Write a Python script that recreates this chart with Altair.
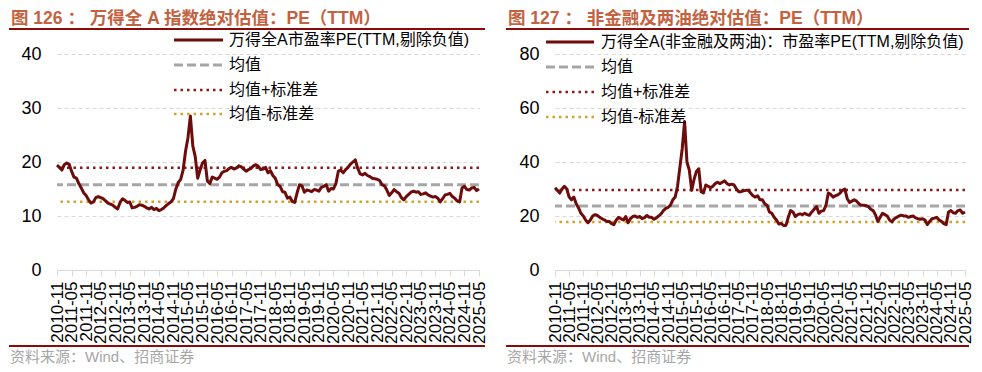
import json
import altair as alt
import pandas as pd

# ---------------- data ----------------
TICK_LABELS = [
    "2010-11", "2011-05", "2011-11", "2012-05", "2012-11", "2013-05", "2013-11",
    "2014-05", "2014-11", "2015-05", "2015-11", "2016-05", "2016-11", "2017-05",
    "2017-11", "2018-05", "2018-11", "2019-05", "2019-11", "2020-05", "2020-11",
    "2021-05", "2021-11", "2022-05", "2022-11", "2023-05", "2023-11", "2024-05",
    "2024-11", "2025-05",
]

# 万得全A 市盈率PE(TTM) monthly, 2010-11 .. 2025-05
QA_PE = [
    19.4, 19.0,
    18.5, 19.5, 19.8, 19.6, 18.3, 17.2, 17.0, 16.0, 15.2, 14.3, 13.8, 13.0,
    12.4, 12.6, 13.4, 13.6, 13.4, 13.2, 12.8, 12.4, 12.2, 12.0, 11.6, 11.3,
    12.5, 13.2, 12.9, 12.5, 12.6, 11.5, 11.6, 11.8, 12.1, 12.0, 11.8, 11.5,
    11.3, 11.6, 11.2, 11.4, 11.0, 11.2, 11.5, 11.9, 12.3, 12.6, 13.2, 15.0,
    16.2, 16.8, 18.5, 22.0, 24.5, 28.5, 23.0, 21.0, 17.0, 18.5, 19.8, 20.3,
    16.5, 16.0, 17.2, 17.0, 16.8, 17.2, 18.0, 18.3, 18.4, 18.8, 19.0, 18.7,
    18.9, 19.3, 19.1, 18.7, 18.3, 18.6, 18.8, 19.3, 19.5, 19.2, 18.6, 18.7,
    19.0, 18.0, 18.4, 17.5, 17.0, 15.8, 15.5, 14.5, 14.4, 13.3, 13.5, 12.7,
    12.5, 14.3, 15.8, 15.6, 14.4, 14.8, 14.7, 14.5, 14.9, 14.8, 14.6, 15.3,
    15.5, 15.8, 14.6, 15.1, 15.0, 16.0, 18.3, 18.5, 18.0, 18.6, 19.0, 19.6,
    20.0, 20.4, 18.8, 17.8, 17.6, 17.9, 17.5, 17.3, 17.0, 16.9, 16.8, 16.6,
    15.8, 15.6, 14.8, 13.8, 14.3, 14.9, 14.5, 14.2, 13.4, 13.0, 13.6, 14.0,
    14.4, 14.6, 14.4, 14.5, 14.0, 14.1, 14.3, 13.9, 13.7, 13.5, 13.6, 13.3,
    12.6, 13.2, 13.9, 14.0, 14.2, 13.6, 13.3, 12.8, 12.6, 15.2, 15.5, 14.9,
    14.8, 15.2, 15.3, 14.7, 15.0,
]

# 万得全A(非金融及两油) 市盈率PE(TTM) monthly, 2010-11 .. 2025-05
NF_PE = [
    30.5, 29.5,
    28.5, 30.0, 31.0, 30.0, 27.0, 26.0, 27.0, 24.5, 23.0, 21.0, 20.0, 18.5,
    17.5, 18.5, 20.0, 20.5, 20.2, 19.5, 19.0, 18.5, 18.0, 18.0, 17.2, 16.8,
    18.5, 19.5, 19.0, 18.5, 19.8, 17.5, 19.0, 19.8, 20.0, 19.5, 19.8, 19.0,
    19.4, 20.2, 19.5, 19.5, 18.8, 19.3, 20.0, 20.8, 22.0, 22.8, 23.2, 24.0,
    26.0, 27.0, 31.0, 38.0, 45.0, 55.0, 40.0, 37.0, 29.5, 33.5, 36.5, 37.5,
    29.0, 28.5, 31.5, 31.0, 30.5, 31.0, 32.0, 32.5, 32.0, 32.5, 33.0, 32.0,
    31.5, 31.8, 31.5, 30.0, 29.0, 29.0, 29.3, 29.5, 29.5, 28.5, 27.5, 27.0,
    27.5, 26.0, 26.0, 24.5, 24.0, 21.5, 21.0, 19.5, 18.5, 17.0, 17.2, 16.5,
    16.5, 19.5, 22.0, 21.5, 19.8, 20.5, 20.8, 20.5, 21.0, 20.5, 20.3, 21.5,
    22.5, 23.5, 21.0, 21.8, 22.0, 24.0, 28.5, 28.0, 27.0, 27.5, 27.8, 28.5,
    29.5, 30.0, 26.5, 25.0, 25.5, 26.0, 25.5, 24.5, 24.0, 24.0, 23.8, 23.5,
    22.5, 22.0, 20.5, 18.0, 19.5, 21.0, 20.5, 20.0, 18.5, 17.8, 19.0, 19.5,
    20.0, 20.3, 20.0, 20.0, 19.5, 19.8, 20.0, 19.3, 19.0, 18.8, 19.0, 18.5,
    16.8, 18.0, 19.0, 19.2, 19.5, 18.5, 18.0, 17.2, 16.8, 21.5, 22.0, 21.2,
    21.0, 22.0, 22.2, 21.0, 21.5,
]

QA_MEAN, QA_SD = 15.8, 3.15
NF_MEAN, NF_SD = 23.7, 5.95

TITLE_L = "图 126 ： 万得全 A 指数绝对估值：PE（TTM）"
TITLE_R = "图 127 ： 非金融及两油绝对估值：PE（TTM）"
LEG_L = ["万得全A市盈率PE(TTM,剔除负值)", "均值", "均值+标准差", "均值-标准差"]
LEG_R = ["万得全A(非金融及两油)：市盈率PE(TTM,剔除负值)", "均值", "均值+标准差", "均值-标准差"]
SOURCE = "资料来源：Wind、招商证券"

# ---------------- styles ----------------
FONT = "Liberation Sans, Noto Sans CJK SC"
MAIN = dict(color="#6E0B0B", strokeWidth=3)
MEAN = dict(color="#A6A6A6", strokeWidth=3, strokeDash=[9, 4])
UPPER = dict(color="#8B1A1A", strokeWidth=2.5, strokeDash=[2.5, 4])
LOWER = dict(color="#D2A22C", strokeWidth=2.5, strokeDash=[2.5, 4])
DARK_RED = "#8B0A0A"
TITLE_COLOR = "#C4623F"
H = 216
N_MONTHS = len(TICK_LABELS) * 6 - 6  # 174

ONE = pd.DataFrame({"a": [0]})
LABEL_EXPR = f"{json.dumps(TICK_LABELS)}[round(datum.value / 6)]"


def panel(values, mean, sd, ymax, ystep, width, title, legend,
          leg_x0, leg_x1, leg_tx, leg_ys, leg_size, left, right):
    df = pd.DataFrame({"m": list(range(len(values))), "v": values})
    x = alt.X(
        "m:Q",
        scale=alt.Scale(domain=[0, N_MONTHS], nice=False, zero=False),
        axis=alt.Axis(
            values=list(range(0, N_MONTHS + 1, 6)), labelExpr=LABEL_EXPR,
            labelAngle=270, labelFont="Liberation Sans", labelFontSize=17,
            labelColor="#000000", labelPadding=5, tickSize=6, tickColor="#D9D9D9",
            domainColor="#D9D9D9", domainWidth=1, grid=False, title=None,
            labelOverlap=False, labelFlush=False, labelBound=False,
        ),
    )
    y = alt.Y(
        "v:Q",
        scale=alt.Scale(domain=[0, ymax], nice=False),
        axis=alt.Axis(
            values=list(range(0, ymax + 1, ystep)), grid=True, gridDash=[4, 3],
            gridColor="#D9D9D9", gridWidth=1, domain=False, ticks=False, tickSize=0,
            labelPadding=16, labelFont="Liberation Sans", labelFontSize=18,
            labelColor="#000000", title=None,
        ),
    )
    line = alt.Chart(df).mark_line(strokeJoin="round", **MAIN).encode(x=x, y=y)
    refs = []
    for val, sty in [(mean, MEAN), (mean + sd, UPPER), (mean - sd, LOWER)]:
        refs.append(
            alt.Chart(pd.DataFrame({"v": [val]})).mark_rule(**sty).encode(y=alt.Y("v:Q"))
        )

    deco = []
    # invisible spacer fixing the top edge of the panel's content
    deco.append(
        alt.Chart(ONE).mark_rule(strokeOpacity=0, strokeWidth=0.01).encode(
            x=alt.value(left), x2=alt.value(left + 1), y=alt.value(-46)
        )
    )
    styles = [MAIN, MEAN, UPPER, LOWER]
    for lab, sty, yy in zip(legend, styles, leg_ys):
        deco.append(
            alt.Chart(ONE).mark_rule(**sty).encode(
                x=alt.value(leg_x0), x2=alt.value(leg_x1), y=alt.value(yy)
            )
        )
        deco.append(
            alt.Chart(ONE).mark_text(
                align="left", baseline="middle", font=FONT, fontSize=leg_size, color="#000000"
            ).encode(x=alt.value(leg_tx), y=alt.value(yy), text=alt.value(lab))
        )
    # title, rules, source
    deco.append(
        alt.Chart(ONE).mark_text(
            align="left", baseline="alphabetic", font=FONT, fontSize=17.5, fontWeight="bold",
            color=TITLE_COLOR,
        ).encode(x=alt.value(left + 2), y=alt.value(-30), text=alt.value(title))
    )
    for yy in (-25, 292):
        deco.append(
            alt.Chart(ONE).mark_rule(color=DARK_RED, strokeWidth=2).encode(
                x=alt.value(left), x2=alt.value(right), y=alt.value(yy)
            )
        )
    deco.append(
        alt.Chart(ONE).mark_text(
            align="left", baseline="middle", font=FONT, fontSize=15, color="#A6A6A6",
        ).encode(x=alt.value(left + 1), y=alt.value(303), text=alt.value(SOURCE))
    )
    return alt.layer(*refs, line, *deco).properties(width=width, height=H)


left = panel(QA_PE, QA_MEAN, QA_SD, 40, 10, 422, TITLE_L, LEG_L,
             117, 166, 172, [-14, 11, 36, 60], 16, -48, 428)
right = panel(NF_PE, NF_MEAN, NF_SD, 80, 20, 410, TITLE_R, LEG_R,
              -9, 39, 46, [-12, 13, 38, 63], 16, -49, 414)

chart = (
    alt.hconcat(left, right, spacing=76, bounds="flush", padding=0)
    .configure_view(stroke=None)
)

chart.save("out.html", embed_options={"renderer": "svg", "actions": False})
